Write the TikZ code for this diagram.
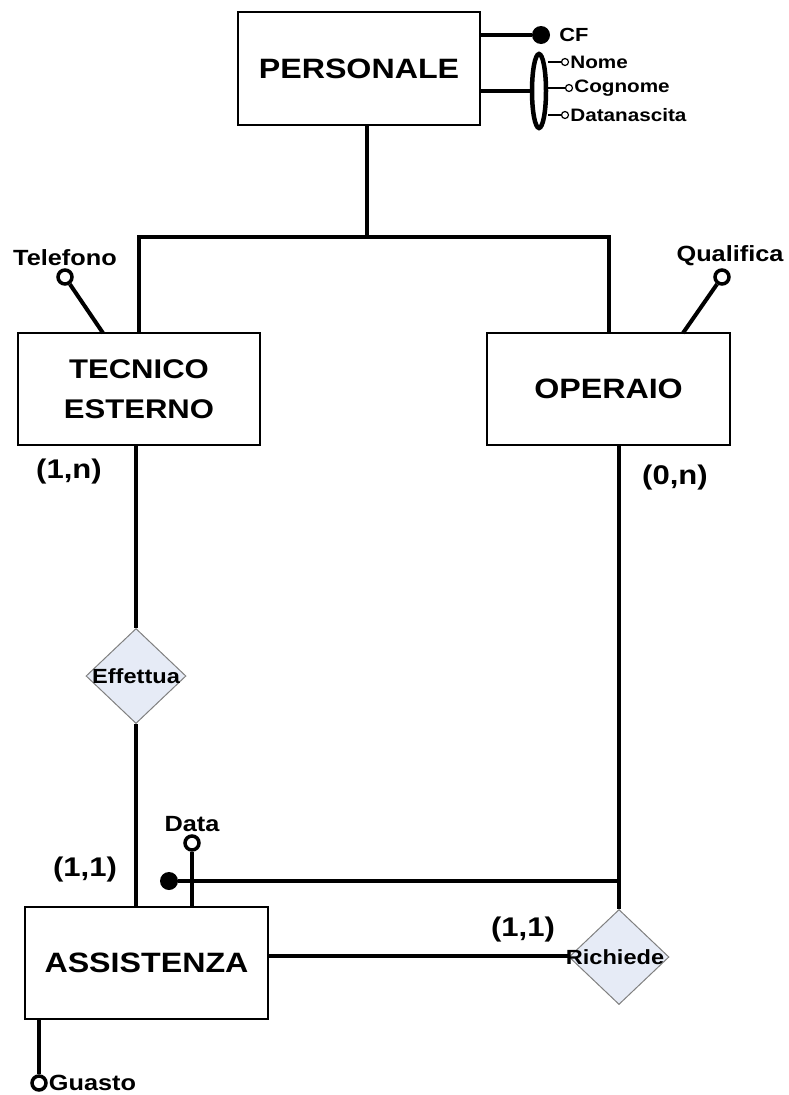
\documentclass[tikz,border=0pt]{standalone}
\usepackage{fontspec}
\newfontfamily\erfont{Liberation Sans}[FakeStretch=1.15]
\usetikzlibrary{positioning}
\usetikzlibrary{shapes.geometric}

\definecolor{relfill}{RGB}{230,235,246}

\tikzset{
	entity/.style={draw, line width=2pt, fill=white, inner sep=0pt, align=center,
		font=\erfont\bfseries\fontsize{28}{40}\selectfont},
	relship/.style={diamond, draw=gray, line width=1pt, fill=relfill, inner sep=0pt,
		minimum width=100pt, minimum height=95pt},
	reltxt/.style={inner sep=0pt, font=\erfont\bfseries\fontsize{20.5}{24}\selectfont},
	link/.style={line width=4pt},
	thinlink/.style={line width=2pt},
	attcirc/.style={circle, draw, line width=3.5pt, fill=white, inner sep=0pt, minimum size=14pt},
	smallcirc/.style={circle, draw, line width=1.2pt, fill=white, inner sep=0pt, minimum size=7pt},
	keydot/.style={circle, fill, inner sep=0pt, minimum size=18pt},
	atttxt/.style={inner sep=1pt, font=\erfont\bfseries\fontsize{22}{26}\selectfont},
	smalltxt/.style={inner sep=1pt, font=\erfont\bfseries\fontsize{18}{22}\selectfont},
	card/.style={inner sep=0pt, font=\erfont\bfseries\fontsize{27}{32}\selectfont}
}

\begin{document}
\begin{tikzpicture}[x=1pt, y=-1pt]
	\useasboundingbox (0,0) rectangle (789,1095);

	% entities
	\node[entity, minimum width=242pt, minimum height=113pt] (personale) at (359,68.5) {PERSONALE};
	\node[entity, minimum width=242pt, minimum height=112pt, font=\erfont\bfseries\fontsize{27}{40}\selectfont] (tecnico) at (139,389) {TECNICO\\ESTERNO};
	\node[entity, minimum width=243pt, minimum height=112pt] (operaio) at (608.5,389) {OPERAIO};
	\node[entity, minimum width=243pt, minimum height=112pt] (assistenza) at (146.5,963) {ASSISTENZA};

	% relationships
	\node[relship] (effettua) at (136,676) {};
	\node[relship] (richiede) at (619,957) {};

	% generalization
	\coordinate (isa) at (367,237);
	\draw[link] (personale.south -| isa) -- (isa);
	\draw[link] (tecnico.north) |- (isa) -| (operaio.north);

	% identifier of PERSONALE
	\node[keydot] (cf) at (541,35) {};
	\node[smalltxt, font=\erfont\bfseries\fontsize{19}{22}\selectfont, right=8pt of cf] (cftxt) {CF};
	\draw[link] (personale.east |- cf) -- (cf);
	\node[ellipse, draw, line width=4.5pt, inner sep=0pt, minimum width=14pt, minimum height=74pt] (pid) at (539,91) {};
	\draw[link] (personale.east |- pid) -- (pid.west);
	\node[smallcirc] (nome) at (565,62) {};
	\node[smallcirc] (cognome) at (569,88) {};
	\node[smallcirc] (datanascita) at (565,115) {};
	\foreach \att/\lab in {nome/Nome, cognome/Cognome, datanascita/Datanascita}
	{
		\draw[thinlink] (pid.east |- \att) -- (\att);
		\node[smalltxt, right=0pt of \att] (\att txt) {\lab};
	}

	% simple attributes
	\coordinate (telroot) at (103,333);
	\node[attcirc] (telefono) at (65,277) {};
	\node[atttxt, above=1pt of telefono] (telefonotxt) {Telefono};
	\draw[link] (telroot) -- (telefono);
	\coordinate (qualroot) at (683,333);
	\node[attcirc] (qualifica) at (722,277) {};
	\node[atttxt, above=1pt of qualifica, xshift=8pt] (qualificatxt) {Qualifica};
	\draw[link] (qualroot) -- (qualifica);
	\node[attcirc] (guasto) at (39,1083) {};
	\node[atttxt, right=0pt of guasto] (guastotxt) {Guasto};
	\draw[link] (assistenza.south west -| guasto) -- (guasto);

	% external identifier of ASSISTENZA
	\node[attcirc] (data) at (192,843) {};
	\node[atttxt, above=1pt of data] (datatxt) {Data};
	\draw[link] (assistenza.north -| data) -- (data);
	\node[keydot] (aid) at (169,881) {};
	\coordinate (aidend) at (621,881);
	\draw[link] (aid) -- (aidend);

	% relationship links
	\draw[link] (tecnico.south -| effettua.north) -- (effettua.north);
	\draw[link] (effettua.south) -- (assistenza.north -| effettua.south);
	\draw[link] (operaio.south -| richiede.north) -- (richiede.north);
	\draw[link] (assistenza.east |- 0,956) -- (richiede.west |- 0,956);
	\node[reltxt] (effettuatxt) at (effettua) {Effettua};
	\node[reltxt] (richiedetxt) at (615,957) {Richiede};

	% cardinalities
	\node[card] (cardtec) at (69,472) {(1,n)};
	\node[card] (cardop) at (675,478) {(0,n)};
	\node[card] (cardeff) at (85,870) {(1,1)};
	\node[card] (cardric) at (523,930) {(1,1)};
\end{tikzpicture}
\end{document}
